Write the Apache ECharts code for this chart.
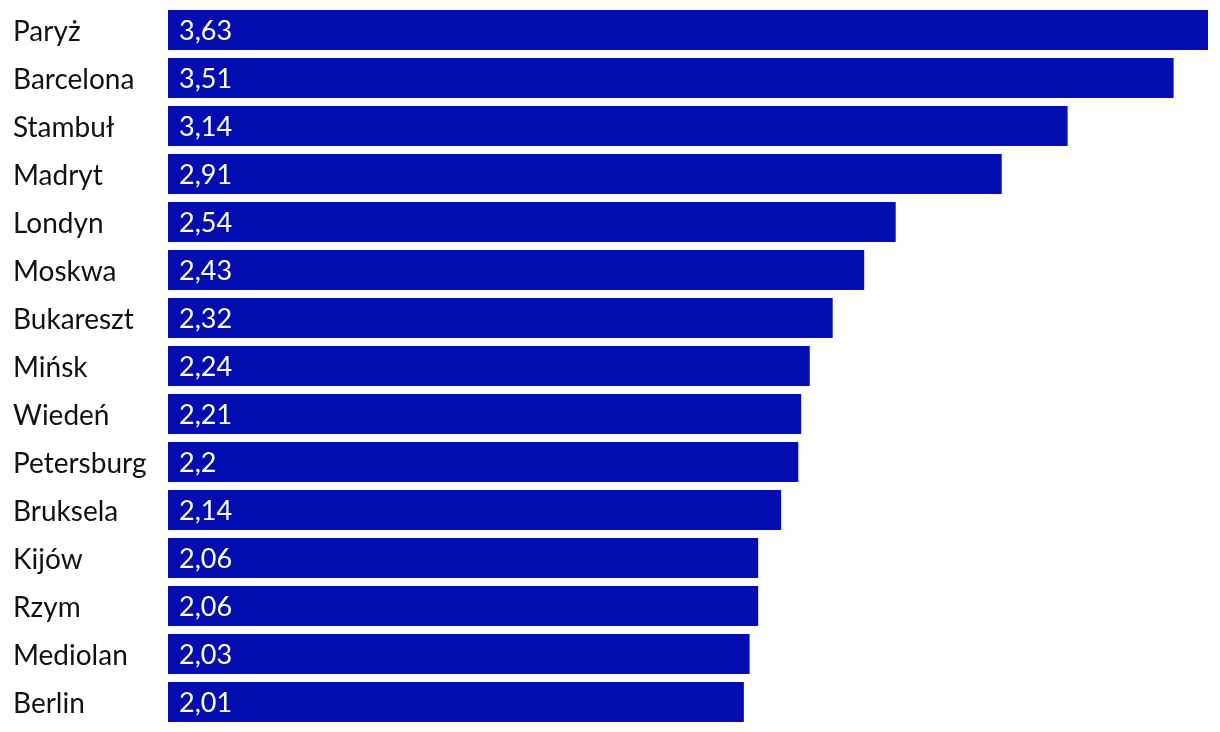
<!DOCTYPE html>
<html>
<head>
<meta charset="utf-8">
<script src="https://cdn.jsdelivr.net/npm/echarts@6/dist/echarts.min.js"></script>
<style>
html,body{margin:0;padding:0;background:#fff;}
#chart{width:1220px;height:732px;}
</style>
</head>
<body>
<div id="chart"></div>
<script>
const cities = ["Paryż","Barcelona","Stambuł","Madryt","Londyn","Moskwa","Bukareszt","Mińsk","Wiedeń","Petersburg","Bruksela","Kijów","Rzym","Mediolan","Berlin"];
const values = [3.63,3.51,3.14,2.91,2.54,2.43,2.32,2.24,2.21,2.2,2.14,2.06,2.06,2.03,2.01];

const chart = echarts.init(document.getElementById('chart'), null, {renderer:'canvas'});
chart.setOption({
  animation:false,
  backgroundColor:'#ffffff',
  grid:{left:168,right:12,top:6,bottom:6,containLabel:false},
  xAxis:{type:'value',min:0,max:3.63,show:false},
  yAxis:{
    type:'category',
    data:cities,
    inverse:true,
    axisLine:{show:false},
    axisTick:{show:false},
    axisLabel:{
      align:'left',
      margin:155,
      formatter:v=>'{a|'+v+'}',
      rich:{a:{color:'#111111',fontFamily:'Lato',fontSize:28,padding:[4,0,0,0]}}
    }
  },
  series:[{
    type:'bar',
    data:values,
    barWidth:40,
    itemStyle:{color:'#040db0'},
    label:{
      show:true,
      position:'insideLeft',
      distance:11,
      formatter:p=>'{a|'+String(p.value).replace('.',',')+'}',
      rich:{a:{color:'#ffffff',fontFamily:'Lato',fontSize:27,padding:[3,0,0,0]}}
    }
  }]
});
</script>
</body>
</html>
